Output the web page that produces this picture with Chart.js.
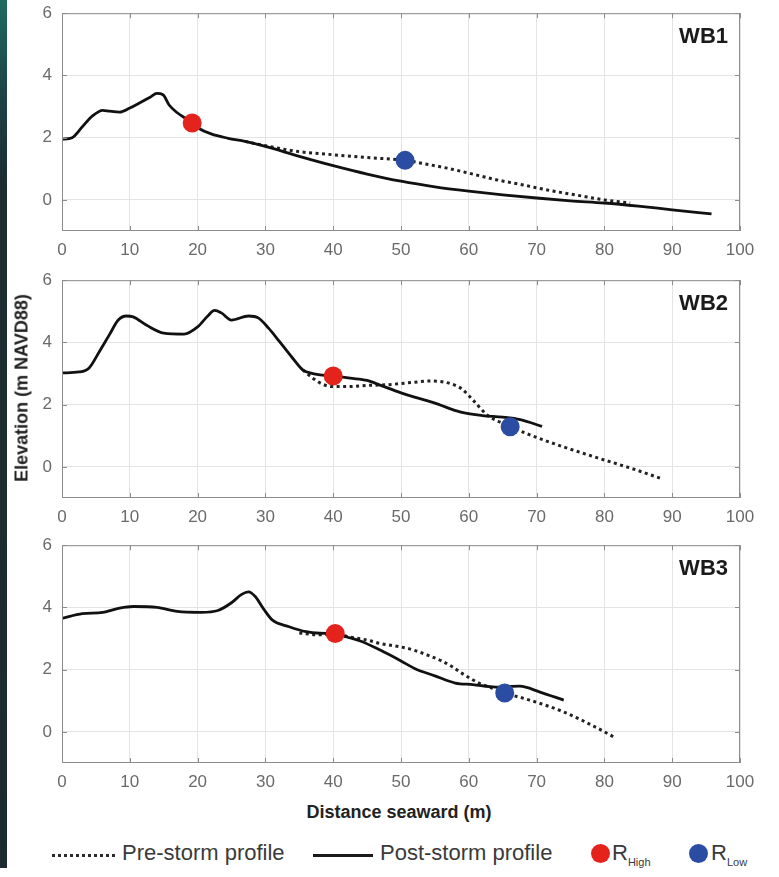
<!DOCTYPE html>
<html>
<head>
<meta charset="utf-8">
<script src="https://cdn.jsdelivr.net/npm/chart.js@4.4.0/dist/chart.umd.min.js"></script>
<style>
  body { margin: 0; background: #fff; font-family: "Liberation Sans", Arial, sans-serif; }
  #page { position: relative; width: 779px; height: 877px; overflow: hidden; }
  #page canvas { position: absolute; left: 0; }
  .side-bar { position: absolute; left: 0; top: 0; width: 7px; height: 868px;
    background: linear-gradient(#1e6c5f 0px, #1c4447 90px, #1b2d33 180px, #1b2b31 100%); }
  .y-title { position: absolute; left: 22px; top: 388px; transform: translate(-50%, -50%) rotate(-90deg);
    font-weight: bold; font-size: 18px; color: #222; white-space: nowrap; }
  .x-title { position: absolute; left: 399px; top: 802px; transform: translateX(-50%);
    font-weight: bold; font-size: 18px; color: #222; white-space: nowrap; }
  .legend { position: absolute; top: 838px; left: 0; height: 34px; width: 779px; color: #3a3a3a; font-size: 22px; }
  .legend div { position: absolute; }
  .dots { top: 16px; height: 0; border-top: 3px dotted #2a2a2a; }
  .solid { top: 16px; height: 3px; background: #1a1a1a; }
  .mark { top: 6px; width: 19px; height: 19px; border-radius: 50%; }
  .lbl { top: 2px; white-space: nowrap; }
  .lbl sub { font-size: 11px; vertical-align: -6px; }
</style>
</head>
<body>
<div id="page">
  <div class="side-bar"></div>
  <canvas id="cvs1" width="779" height="272" style="top:-7px"></canvas>
  <canvas id="cvs2" width="779" height="272" style="top:260px"></canvas>
  <canvas id="cvs3" width="779" height="272" style="top:525px"></canvas>
  <div class="y-title">Elevation (m NAVD88)</div>
  <div class="x-title">Distance seaward (m)</div>
  <div class="legend">
    <div class="dots" style="left:52px;width:63px"></div>
    <div class="lbl" style="left:122px">Pre-storm profile</div>
    <div class="solid" style="left:313px;width:60px"></div>
    <div class="lbl" style="left:380px">Post-storm profile</div>
    <div class="mark" style="left:591px;background:#e5231d"></div>
    <div class="lbl" style="left:612px">R<sub>High</sub></div>
    <div class="mark" style="left:689px;background:#2a4ca3"></div>
    <div class="lbl" style="left:711px">R<sub>Low</sub></div>
  </div>
</div>

<script>
//-------------------------------------------------------------------
// profile data (distance seaward m, elevation m NAVD88)
//-------------------------------------------------------------------
const xTicks = [0, 10, 20, 30, 40, 50, 60, 70, 80, 90, 100];
const yTicks = [0, 2, 4, 6];
const panelNames = ['WB1', 'WB2', 'WB3'];

// WB1
const wb1PostDist = [0, 1.5, 3, 4.5, 6, 7, 8.5, 10, 11.5, 13, 14, 14.9, 15.8, 17, 18.5, 20, 22, 24.5, 27, 30, 35, 40, 45, 50, 55, 60, 65, 70, 75, 80, 85, 90, 95.8];
const wb1PostElev = [1.95, 2.0, 2.35, 2.7, 2.88, 2.85, 2.82, 2.95, 3.12, 3.3, 3.42, 3.38, 3.05, 2.8, 2.58, 2.32, 2.12, 1.98, 1.88, 1.72, 1.4, 1.1, 0.83, 0.6, 0.42, 0.28, 0.16, 0.06, -0.03, -0.1, -0.2, -0.32, -0.45];
const wb1PreDist = [27, 30, 35, 40, 45, 50.6, 53, 56.8, 60, 64, 68, 72, 76, 80, 83.8];
const wb1PreElev = [1.88, 1.74, 1.55, 1.45, 1.36, 1.27, 1.18, 1.02, 0.86, 0.65, 0.48, 0.3, 0.15, 0.0, -0.1];
const wb1High = [19.2, 2.47];
const wb1Low = [50.6, 1.27];

// WB2
const wb2PostDist = [0, 2.5, 4, 5.5, 7, 8.3, 9.5, 10.5, 12.5, 15, 18, 20, 21.5, 22.5, 23.5, 25, 27.5, 29, 30.5, 32, 34, 35.5, 37, 40, 42.5, 45, 47, 50, 52, 55, 57, 59, 62, 65, 67.6, 70.8];
const wb2PostElev = [3.02, 3.05, 3.18, 3.7, 4.25, 4.72, 4.85, 4.82, 4.55, 4.3, 4.27, 4.5, 4.85, 5.03, 4.95, 4.72, 4.85, 4.78, 4.45, 4.05, 3.5, 3.12, 3.0, 2.92, 2.85, 2.78, 2.62, 2.38, 2.24, 2.05, 1.89, 1.75, 1.65, 1.6, 1.52, 1.3];
const wb2PreDist = [35.5, 37, 38.5, 40, 42, 45, 48, 51, 54.5, 56.5, 58, 59, 60.6, 62.8, 64.5, 66.1, 69, 74, 79, 84, 88.6];
const wb2PreElev = [3.12, 2.85, 2.65, 2.58, 2.58, 2.62, 2.64, 2.7, 2.76, 2.72, 2.62, 2.5, 2.15, 1.65, 1.45, 1.29, 1.03, 0.64, 0.29, -0.05, -0.39];
const wb2High = [40, 2.92];
const wb2Low = [66.1, 1.29];

// WB3
const wb3PostDist = [0, 3, 6, 8.5, 10.5, 14, 17, 20.5, 23, 25, 26.5, 27.5, 28.5, 29.7, 31, 33.5, 36, 38, 40.3, 42, 44, 47, 50, 52, 55, 58, 60.6, 64, 67.5, 70.5, 74];
const wb3PostElev = [3.65, 3.8, 3.84, 3.98, 4.03, 4.0, 3.87, 3.84, 3.9, 4.15, 4.42, 4.5, 4.35, 3.96, 3.6, 3.38, 3.22, 3.17, 3.15, 3.05, 2.92, 2.62, 2.28, 2.04, 1.8, 1.57, 1.52, 1.44, 1.47, 1.28, 1.02];
const wb3PreDist = [35, 38, 40.3, 42.5, 45, 47, 50, 52, 54, 56, 57.5, 59, 61.5, 63.5, 65.3, 69, 74, 78.9, 81.6];
const wb3PreElev = [3.18, 3.12, 3.15, 3.05, 2.95, 2.84, 2.73, 2.62, 2.46, 2.28, 2.1, 1.88, 1.57, 1.4, 1.25, 1.02, 0.64, 0.13, -0.19];
const wb3High = [40.3, 3.16];
const wb3Low = [65.3, 1.25];

//-------------------------------------------------------------------
// helpers
//-------------------------------------------------------------------
function toPoints(xs, ys) {
  return xs.map((x, i) => ({ x: x, y: ys[i] }));
}

// MATLAB style box, inward ticks and panel name
const boxPlugin = {
  id: 'boxPlugin',
  afterDraw(chart, args, opts) {
    const ctx = chart.ctx;
    const a = chart.chartArea;
    const sx = chart.scales.x;
    const sy = chart.scales.y;
    ctx.save();
    ctx.strokeStyle = '#8c8c8c';
    ctx.lineWidth = 1;
    ctx.strokeRect(a.left + 0.5, a.top + 0.5, a.width - 1, a.height - 1);
    ctx.beginPath();
    xTicks.forEach(v => {
      const px = Math.round(sx.getPixelForValue(v)) + 0.5;
      ctx.moveTo(px, a.bottom); ctx.lineTo(px, a.bottom - 5);
      ctx.moveTo(px, a.top); ctx.lineTo(px, a.top + 5);
    });
    yTicks.forEach(v => {
      const py = Math.round(sy.getPixelForValue(v)) + 0.5;
      ctx.moveTo(a.left, py); ctx.lineTo(a.left + 5, py);
      ctx.moveTo(a.right, py); ctx.lineTo(a.right - 5, py);
    });
    ctx.stroke();
    ctx.fillStyle = '#1a1a1a';
    ctx.font = 'bold 22px "Liberation Sans", Arial, sans-serif';
    ctx.textAlign = 'right';
    ctx.textBaseline = 'alphabetic';
    ctx.fillText(opts.label, a.right - 12, a.top + 30);
    ctx.restore();
  }
};

function makePanel(cvsId, name, postX, postY, preX, preY, high, low) {
  const ctx = document.getElementById(cvsId).getContext('2d');
  return new Chart(ctx, {
    type: 'scatter',
    data: {
      datasets: [
        { label: 'R High', data: [{ x: high[0], y: high[1] }], pointRadius: 9.5,
          pointBackgroundColor: '#e5231d', pointBorderWidth: 0, order: 0 },
        { label: 'R Low', data: [{ x: low[0], y: low[1] }], pointRadius: 9.5,
          pointBackgroundColor: '#2a4ca3', pointBorderWidth: 0, order: 0 },
        { label: 'Post-storm profile', data: toPoints(postX, postY), showLine: true,
          borderColor: '#111', borderWidth: 2.8, pointRadius: 0,
          cubicInterpolationMode: 'monotone', order: 1 },
        { label: 'Pre-storm profile', data: toPoints(preX, preY), showLine: true,
          borderColor: '#222', borderWidth: 3, borderDash: [3, 3.5], borderCapStyle: 'butt',
          pointRadius: 0, cubicInterpolationMode: 'monotone', order: 2 }
      ]
    },
    options: {
      responsive: false,
      animation: false,
      events: [],
      layout: { padding: { top: 0, right: 39, left: 0, bottom: 0 } },
      plugins: {
        legend: { display: false },
        tooltip: { enabled: false },
        boxPlugin: { label: name }
      },
      scales: {
        x: {
          type: 'linear', min: 0, max: 100,
          afterBuildTicks: s => { s.ticks = xTicks.map(v => ({ value: v })); },
          afterFit: s => { s.height = 34; },
          grid: { color: '#e4e4e4', drawTicks: false },
          border: { display: false },
          ticks: { color: '#6a6a6a', padding: 9, maxRotation: 0,
                   font: { size: 17, family: '"Liberation Sans", Arial, sans-serif' } }
        },
        y: {
          type: 'linear', min: -1, max: 6,
          afterBuildTicks: s => { s.ticks = yTicks.map(v => ({ value: v })); },
          afterFit: s => { s.width = 62; },
          grid: { color: '#e4e4e4', drawTicks: false },
          border: { display: false },
          ticks: { color: '#6a6a6a', padding: 10,
                   font: { size: 17, family: '"Liberation Sans", Arial, sans-serif' } }
        }
      }
    },
    plugins: [boxPlugin]
  });
}

makePanel('cvs1', panelNames[0], wb1PostDist, wb1PostElev, wb1PreDist, wb1PreElev, wb1High, wb1Low);
makePanel('cvs2', panelNames[1], wb2PostDist, wb2PostElev, wb2PreDist, wb2PreElev, wb2High, wb2Low);
makePanel('cvs3', panelNames[2], wb3PostDist, wb3PostElev, wb3PreDist, wb3PreElev, wb3High, wb3Low);
</script>
</body>
</html>
